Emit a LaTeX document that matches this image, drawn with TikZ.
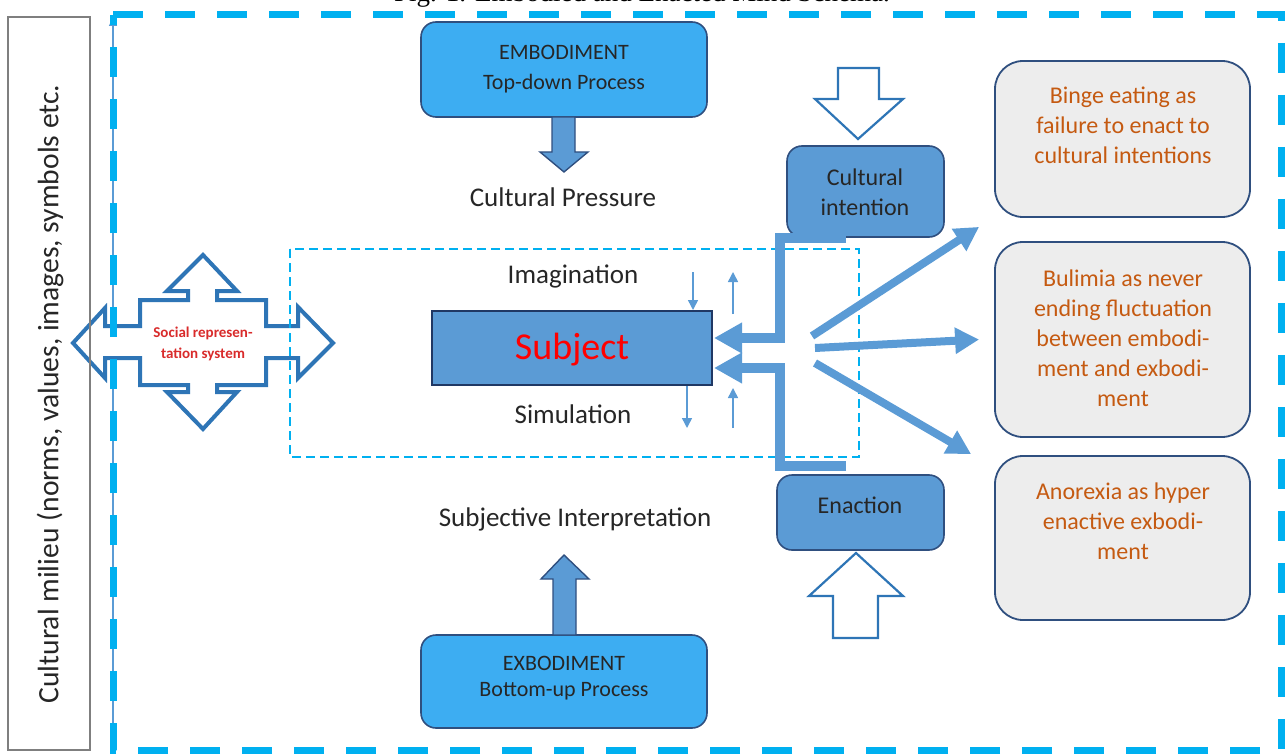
\documentclass[tikz,border=0pt]{standalone}
\usepackage{fontspec}
\setmainfont{Carlito}
\newfontfamily\titlefont{Liberation Serif}
\usetikzlibrary{arrows.meta,calc}
\definecolor{cyanDash}{HTML}{00B0F0}
\definecolor{midBlue}{HTML}{5B9BD5}
\definecolor{brightBlue}{HTML}{3DADF2}
\definecolor{darkBorder}{HTML}{2F4F7F}
\definecolor{hollowBlue}{HTML}{2E75B6}
\definecolor{orangeText}{HTML}{C55A11}
\definecolor{grayFill}{HTML}{EDEDED}
\definecolor{subjRed}{HTML}{FF0000}
\definecolor{srsRed}{HTML}{D92B2B}
\definecolor{navy}{HTML}{203864}
\definecolor{boxGray}{HTML}{7F7F7F}
\begin{document}
\begin{tikzpicture}[x=1pt,y=-1pt,
  embbox/.style={draw=darkBorder,line width=1.6,fill=brightBlue,rounded corners=15,minimum width=286,inner sep=0},
  midbox/.style={draw=darkBorder,line width=1.6,fill=midBlue,rounded corners=15,inner sep=0},
  graybox/.style={draw=darkBorder,line width=1.8,fill=grayFill,rounded corners=28,minimum width=255,inner sep=0},
  lbl/.style={inner sep=0,font=\fontsize{27}{32}\selectfont,text=black!85},
  boxtxt/.style={inner sep=0,font=\fontsize{22}{30}\selectfont,text=black!85},
  midtxt/.style={inner sep=0,align=center,font=\fontsize{24}{30}\selectfont,text=black!85},
  orangetxt/.style={inner sep=0,align=center,font=\fontsize{24}{30}\selectfont,text=orangeText},
  blockarrow/.style={draw=darkBorder,line width=1.4,fill=midBlue,line join=miter},
  hollowarrow/.style={draw=hollowBlue,line width=2.2,fill=white,line join=miter},
  thickconn/.style={draw=midBlue,line width=10,line join=miter,-{Triangle[width=29,length=28]}},
  fanarrow/.style={draw=midBlue,line width=8,-{Triangle[width=25,length=24]}},
  thinarrow/.style={draw=midBlue,line width=1.5,-{Triangle[width=10,length=10]}}
]
\useasboundingbox (0,0) rectangle (1285,754);

% clipped caption at the top (cut off in the reference too)
\begin{scope}
\clip (0,0) rectangle (1285,754);
\node[anchor=base,inner sep=0,font=\titlefont\fontsize{27}{30}\selectfont] (title) at (642,1.5) {Fig. 1. Embodied and Enacted Mind Schema.};
\end{scope}

% thin arrow along left edge of outer frame
\coordinate (frameBot) at (113,740);
\coordinate (frameTop) at (113,17);
\draw[draw=midBlue,line width=1.2,-{Triangle[width=8,length=9]}] (frameBot) -- (frameTop);

% social representation cross
\draw[draw=hollowBlue,line width=4,fill=white,line join=miter]
  (73,343) -- (105,308) -- (105,326) -- (140,326) -- (140,300) -- (188,300) -- (188,291) -- (167,291)
  -- (203,255) -- (237,291) -- (217,291) -- (217,300) -- (266,300) -- (266,326) -- (298,326) -- (298,307)
  -- (333,343) -- (298,378) -- (298,358) -- (266,358) -- (266,385) -- (217,385) -- (217,392) -- (237,392)
  -- (203,429) -- (167,392) -- (188,392) -- (188,385) -- (140,385) -- (140,358) -- (105,358) -- (105,378) -- cycle;
\node[inner sep=0,align=center,text=srsRed,font=\fontsize{15}{21}\selectfont\bfseries] (srs) at (203,344) {Social represen-\\tation system};

% left milieu box
\draw[draw=boxGray,line width=1.5] (8,17) rectangle (90,750);
\node[inner sep=0,rotate=90,font=\fontsize{29.6}{32}\selectfont,text=black!85] (milieu) at (50,394) {Cultural milieu (norms, values, images, symbols etc.};

% outer dashed frame
\draw[draw=cyanDash,line width=7,dash pattern=on 30 off 22] (113,15) -- (1281,15) -- (1281,750) -- (113,750) -- cycle;

% inner dashed box
\draw[draw=cyanDash,line width=2,dash pattern=on 9 off 5] (290,249) rectangle (859,457);

% Embodiment
\node[embbox,minimum height=95] (emb) at (564,69.5) {};
\node[boxtxt] (embA) at (564,52) {EMBODIMENT};
\node[boxtxt] (embB) at (564,84) {Top-down Process};
\draw[blockarrow] (552,117) -- (575,117) -- (575,152) -- (588,152) -- (564,172) -- (540,152) -- (552,152) -- cycle;
\node[lbl] (cp) at (563,197) {Cultural Pressure};

% Exbodiment
\node[embbox,minimum height=93] (exb) at (564,681.5) {};
\node[boxtxt] (exbA) at (564,663) {EXBODIMENT};
\node[boxtxt] (exbB) at (564,691) {Bottom-up Process};
\draw[blockarrow] (553,635) -- (553,579) -- (541,579) -- (564,555) -- (589,579) -- (576,579) -- (576,635) -- cycle;
\node[lbl] (si) at (575,519) {Subjective Interpretation};

% Subject
\node[draw=navy,line width=2,fill=midBlue,minimum width=280,minimum height=74,inner sep=0] (subj) at (572,348) {};
\node[inner sep=0,text=subjRed,font=\fontsize{38}{40}\selectfont] (subjT) at (572,350) {Subject};
\node[lbl] (imag) at (573,276) {Imagination};
\node[lbl] (simu) at (573,414) {Simulation};

% thin arrows
\draw[thinarrow] ($(subj.north east)+(-20,-38)$) -- ($(subj.north east)+(-20,0)$);
\draw[thinarrow] ($(subj.north east)+(20,4)$) -- ($(subj.north east)+(20,-38)$);
\draw[thinarrow] ($(subj.south east)+(-26,0)$) -- ($(subj.south east)+(-26,42)$);
\draw[thinarrow] ($(subj.south east)+(20,42)$) -- ($(subj.south east)+(20,2)$);

% Cultural intention and Enaction
\node[midbox,minimum width=157,minimum height=91] (ci) at (865.5,191.5) {};
\node[midtxt] (ciT) at (865,192) {Cultural\\intention};
\draw[hollowarrow] (838,68) -- (879,68) -- (879,99) -- (903,99) -- (858,139) -- (815,99) -- (838,99) -- cycle;

\node[midbox,minimum width=167,minimum height=75] (ena) at (860.5,512.5) {};
\node[midtxt] (enaT) at (860,505) {Enaction};
\draw[hollowarrow] (833,638) -- (833,596) -- (809,596) -- (856,553) -- (903,596) -- (878,596) -- (878,638) -- cycle;

% thick bracket connectors
\draw[thickconn] ($(ci.south west)+(60,0)$) -| ($(subj.east)+(67,-10)$) -- ($(subj.east)+(1,-10)$);
\draw[thickconn] ($(ena.north west)+(70,-8)$) -| ($(subj.east)+(67,20)$) -- ($(subj.east)+(1,20)$);

% right boxes
\node[graybox,minimum height=156] (b1) at (1122.5,139) {};
\node[orangetxt] (b1T) at (1123,125) {Binge eating as\\failure to enact to\\cultural intentions};
\node[graybox,minimum height=195] (b2) at (1122.5,339.5) {};
\node[orangetxt] (b2T) at (1123,338) {Bulimia as never\\ending fluctuation\\between embodi-\\ment and exbodi-\\ment};
\node[graybox,minimum height=164] (b3) at (1122.5,538) {};
\node[orangetxt] (b3T) at (1123,521.5) {Anorexia as hyper\\enactive exbodi-\\ment};

% fan arrows
\coordinate (fu0) at (812,336);
\coordinate (fm0) at (815,348);
\coordinate (fl0) at (815,363);
\draw[fanarrow] (fu0) -- ($(b1.south west)+(-15,9)$);
\draw[fanarrow] (fm0) -- ($(b2.west)+(-15,0)$);
\draw[fanarrow] (fl0) -- ($(b3.north west)+(-23,-1)$);

\end{tikzpicture}
\end{document}
